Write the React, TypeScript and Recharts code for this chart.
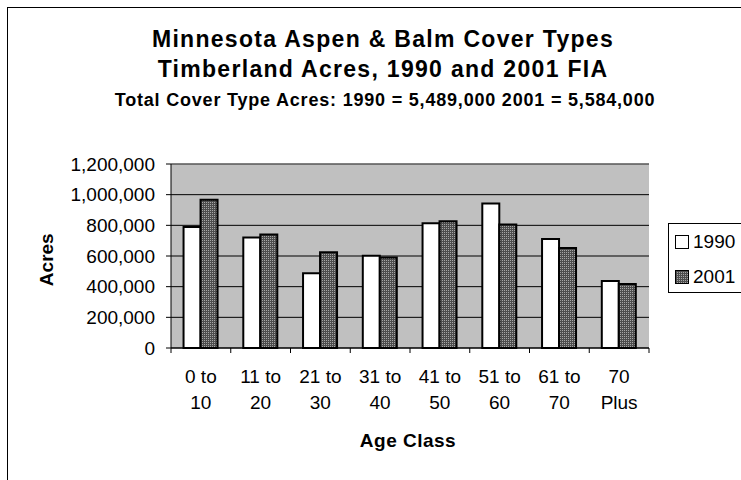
import { BarChart, Bar, XAxis, YAxis, CartesianGrid, Legend, ReferenceLine } from "recharts";

const categories = ["0 to 10", "11 to 20", "21 to 30", "31 to 40", "41 to 50", "51 to 60", "61 to 70", "70 Plus"];
const acres1990 = [789000, 721000, 487000, 602000, 813000, 943000, 711000, 437000];
const acres2001 = [967000, 741000, 624000, 591000, 826000, 806000, 652000, 417000];
const seriesNames = ["1990", "2001"];
const yTicks = [0, 200000, 400000, 600000, 800000, 1000000, 1200000];

const titleLines = [
    "Minnesota Aspen & Balm Cover Types",
    "Timberland Acres, 1990 and 2001 FIA",
];
const subTitle = "Total Cover Type Acres: 1990 = 5,489,000 2001 = 5,584,000";

const data = categories.map((age, i) => ({ age, y1990: acres1990[i], y2001: acres2001[i] }));

const FONT = "'Liberation Sans', Arial, sans-serif";
const W = 741;
const H = 480;
const Y_AXIS_W = 171;
const M_RIGHT = 92;
const band = (W - Y_AXIS_W - M_RIGHT) / categories.length;

// two-line category label + Excel style ticks between the categories
function AgeTick(props: any) {
    const { x, y, payload, index } = props;
    const label: string = payload.value;
    const cut = label.lastIndexOf(" ");
    const a = label.slice(0, cut);
    const b = label.slice(cut + 1);
    const left = x - band / 2;
    return (
        <g>
            <line x1={left} x2={left} y1={y} y2={y + 5} stroke="#000" />
            {index === categories.length - 1 && (
                <line x1={x + band / 2} x2={x + band / 2} y1={y} y2={y + 5} stroke="#000" />
            )}
            <text x={x} y={y + 34.7} textAnchor="middle" fontSize={19} fontFamily={FONT} fill="#000">{a}</text>
            <text x={x} y={y + 61.3} textAnchor="middle" fontSize={19} fontFamily={FONT} fill="#000">{b}</text>
        </g>
    );
}

function LegendBox(props: any) {
    const items = props.payload || [];
    return (
        <div style={{ position: "relative", width: 80, height: 70, border: "1px solid #000", boxSizing: "border-box", background: "#fff", fontFamily: FONT }}>
            {items.map((it: any, i: number) => (
                <div key={it.value} style={{ position: "absolute", left: 6, top: 7 + i * 35, height: 22, display: "flex", alignItems: "center" }}>
                    <svg width={14} height={14} style={{ display: "block" }}>
                        <rect x={0.5} y={0.5} width={13} height={13} fill={it.color} stroke="#000" />
                    </svg>
                    <span style={{ marginLeft: 4, fontSize: 19, color: "#000", lineHeight: "22px" }}>{it.value}</span>
                </div>
            ))}
        </div>
    );
}

export default function App() {
    return (
        <div style={{ position: "fixed", left: 0, top: 0, width: W, height: H, background: "#fff", overflow: "hidden" }}>
            <svg width={0} height={0} style={{ position: "absolute" }}>
                <defs>
                    <pattern id="dots" width={2} height={2} patternUnits="userSpaceOnUse">
                        <rect width={2} height={2} fill="#4d4d4d" />
                        <rect width={1} height={1} fill="#a6a6a6" />
                    </pattern>
                </defs>
            </svg>
            <div style={{ position: "absolute", left: 7, top: 7, width: W + 40, height: H + 40, border: "1px solid #000" }} />
            <div style={{ position: "absolute", left: 0, top: 0 }}>
                <BarChart width={W} height={H} data={data} margin={{ top: 164, right: M_RIGHT, bottom: 72, left: 0 }} barCategoryGap="21%" barGap={0}>
                    <CartesianGrid vertical={false} stroke="#000" fill="#c0c0c0" fillOpacity={1} />
                    <XAxis dataKey="age" height={60} interval={0} tickLine={false} tickSize={0} tickMargin={0} axisLine={{ stroke: "#000" }} tick={<AgeTick />} />
                    <YAxis width={Y_AXIS_W} domain={[0, 1200000]} ticks={yTicks} interval={0}
                        tickFormatter={(v: number) => v.toLocaleString("en-US")}
                        tick={{ fill: "#000", fontSize: 19, fontFamily: FONT }}
                        tickSize={5} tickMargin={11} axisLine={{ stroke: "#000" }} tickLine={{ stroke: "#000" }} />
                    <YAxis yAxisId="r" orientation="right" width={0} domain={[0, 1200000]} tick={false} tickLine={false} axisLine={{ stroke: "#808080" }} />
                    <ReferenceLine y={1200000} stroke="#808080" />
                    <Legend layout="vertical" align="center" verticalAlign="middle" wrapperStyle={{ left: 668, top: 223, width: 80, height: 70 }} content={(p: any) => <LegendBox payload={p.payload} />} />
                    <Bar dataKey="y1990" name={seriesNames[0]} fill="#ffffff" stroke="#000" strokeWidth={2} isAnimationActive={false} />
                    <Bar dataKey="y2001" name={seriesNames[1]} fill="url(#dots)" stroke="#000" strokeWidth={2} isAnimationActive={false} />
                </BarChart>
            </div>
            <svg width={W} height={H} style={{ position: "absolute", left: 0, top: 0, pointerEvents: "none" }} fontFamily={FONT} fontWeight="bold" fill="#000">
                <text x={383} y={46.7} textAnchor="middle" fontSize={23} letterSpacing={1.3}>{titleLines[0]}</text>
                <text x={383} y={77.3} textAnchor="middle" fontSize={23} letterSpacing={1.3}>{titleLines[1]}</text>
                <text x={385} y={106} textAnchor="middle" fontSize={18} letterSpacing={0.8}>{subTitle}</text>
                <text x={53.3} y={259.7} textAnchor="middle" fontSize={19} transform="rotate(-90 53.3 259.7)">Acres</text>
                <text x={408} y={446.7} textAnchor="middle" fontSize={19} letterSpacing={0.5}>Age Class</text>
            </svg>
        </div>
    );
}
